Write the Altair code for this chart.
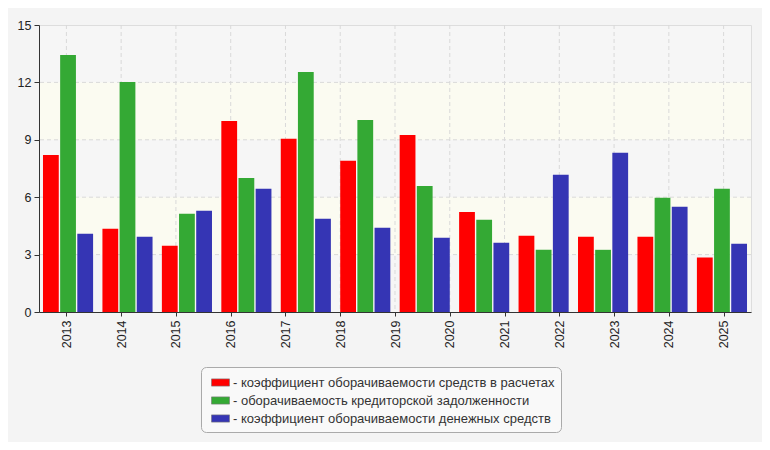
import altair as alt
import pandas as pd

# ---- data ----
years = [str(y) for y in range(2013, 2026)]          # 13 tick labels
bar_groups = years[:12]                               # 12 groups of bars drawn
series = [
    "коэффициент оборачиваемости средств в расчетах",
    "оборачиваемость кредиторской задолженности",
    "коэффициент оборачиваемости денежных средств",
]
colors = ["#ff0000", "#34a934", "#3535b4"]
receivables = [8.21, 4.35, 3.46, 9.98, 9.05, 7.90, 9.25, 5.23, 3.98, 3.93, 3.93, 2.85]
payables = [13.43, 12.02, 5.13, 7.01, 12.54, 10.04, 6.59, 4.82, 3.25, 3.25, 5.97, 6.44]
cash = [4.09, 3.93, 5.29, 6.44, 4.87, 4.40, 3.88, 3.62, 7.17, 8.32, 5.50, 3.57]
y_ticks = [0, 3, 6, 9, 12, 15]
band_lo = [3, 9]
band_hi = [6, 12]

FONT = "Liberation Sans"

rows = []
for name, vals in zip(series, [receivables, payables, cash]):
    for g, v in zip(bar_groups, vals):
        rows.append({"grp": g, "series": name, "value": v})
bars_df = pd.DataFrame(rows)
bands_df = pd.DataFrame({"lo": band_lo, "hi": band_hi})
grid_df = pd.DataFrame({"v": [t for t in y_ticks if 0 < t < 15]})
years_df = pd.DataFrame({"year": years})

yscale = alt.Scale(domain=[0, 15], nice=False, zero=True)
yaxis = alt.Axis(values=y_ticks, title=None, tickSize=5, labelPadding=3,
                 grid=False, zindex=1, orient="left")

bg = alt.Chart(bands_df).mark_rect(color="#fbfbf1").encode(
    y=alt.Y("lo:Q", scale=yscale, axis=yaxis),
    y2="hi:Q",
)

hgrid = alt.Chart(grid_df).mark_rule(color="#d9d9d9", strokeDash=[4, 3], strokeWidth=1).encode(
    y=alt.Y("v:Q", scale=yscale, axis=yaxis),
)

vgrid = alt.Chart(years_df).mark_rule(color="#d9d9d9", strokeDash=[4, 3], strokeWidth=1).encode(
    x=alt.X(
        "year:O",
        sort=years,
        scale=alt.Scale(type="point", padding=0.5),
        axis=alt.Axis(
            orient="bottom", title=None, labelAngle=-90, tickSize=4,
            labelPadding=4, grid=False, zindex=1,
        ),
    ),
)

bars = alt.Chart(bars_df).mark_bar().encode(
    x=alt.X(
        "grp:N", sort=bar_groups,
        scale=alt.Scale(paddingInner=0.157, paddingOuter=0.067),
        axis=None,
    ),
    xOffset=alt.XOffset("series:N", sort=series,
                        scale=alt.Scale(paddingInner=0.08, paddingOuter=0)),
    y=alt.Y("value:Q", scale=yscale, axis=yaxis),
    color=alt.Color(
        "series:N", sort=series,
        scale=alt.Scale(domain=series, range=colors),
        legend=alt.Legend(
            title=None, orient="none", legendX=162, legendY=342,
            direction="vertical", fillColor="#f9f9f9", strokeColor="#aaaaaa",
            cornerRadius=5, padding=6, symbolType="M-1,-0.4H1V0.4H-1Z",
            symbolSize=324, symbolStrokeColor="#777777", symbolStrokeWidth=0.6,
            symbolOffset=4, labelFont=FONT, labelFontSize=13, labelColor="#333333",
            labelLimit=600, labelExpr="'- ' + datum.label", rowPadding=1,
            labelOffset=3,
        ),
    ),
)

chart = (
    alt.layer(bg, hgrid, vgrid, bars)
    .resolve_scale(x="independent")
    .properties(
        width=712, height=287,
        autosize=alt.AutoSizeParams(type="none"),
        padding={"left": 31, "top": 17, "right": 11, "bottom": 130},
        background="#f4f4f4",
    )
    .configure_view(fill="#f6f6f6", stroke="#dddddd", strokeWidth=1)
    .configure_axis(
        domainColor="#333333", tickColor="#333333", labelColor="#222222",
        labelFont=FONT, labelFontSize=12.5,
    )
)

chart.save("out.html", embed_options={"renderer": "svg", "actions": False})
